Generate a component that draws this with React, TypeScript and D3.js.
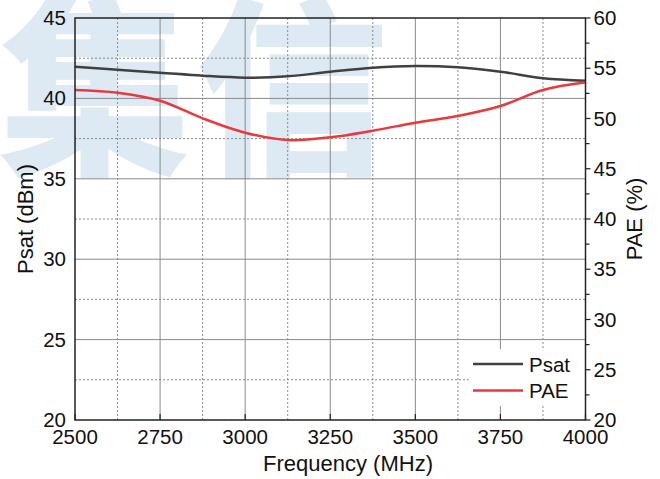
import * as d3 from "d3"

const FREQS = [2500, 2625, 2750, 2875, 3000, 3125, 3250, 3375, 3500, 3625, 3750, 3875, 4000]
const PSAT = [41.97, 41.78, 41.6, 41.41, 41.29, 41.37, 41.66, 41.91, 42.01, 41.93, 41.66, 41.25, 41.1]
const PAE = [52.84, 52.57, 51.77, 50.02, 48.59, 47.86, 48.13, 48.79, 49.58, 50.25, 51.24, 52.84, 53.6]

const X_TICKS = [2500, 2750, 3000, 3250, 3500, 3750, 4000]
const X_MINOR = [2625, 2875, 3125, 3375, 3625, 3875]
const PSAT_TICKS = [20, 25, 30, 35, 40, 45]
const PSAT_MINOR = [22.5, 27.5, 32.5, 37.5, 42.5]
const PAE_TICKS = [20, 25, 30, 35, 40, 45, 50, 55, 60]
const PAE_MINOR = [22.5, 27.5, 32.5, 37.5, 42.5, 47.5, 52.5, 57.5]

const WIDTH = 660
const HEIGHT = 479
const M = { left: 75, right: 74.5, top: 18, bottom: 59 }
const FONT = "'Liberation Sans', Arial, sans-serif"
const GRID = "#8a8a8a"
const PSAT_COLOR = "#404040"
const PAE_COLOR = "#e83a3c"

export default function App() {
  const x = d3.scaleLinear().domain([2500, 4000]).range([M.left, WIDTH - M.right])
  const yL = d3.scaleLinear().domain([20, 45]).range([HEIGHT - M.bottom, M.top])
  const yR = d3.scaleLinear().domain([20, 60]).range([HEIGHT - M.bottom, M.top])
  const x0 = M.left
  const x1 = WIDTH - M.right
  const y0 = HEIGHT - M.bottom
  const y1 = M.top

  const psatLine = d3
    .line<number>()
    .x((_, i) => x(FREQS[i]))
    .y((d) => yL(d))
    .curve(d3.curveCatmullRom.alpha(0.5))
  const paeLine = d3
    .line<number>()
    .x((_, i) => x(FREQS[i]))
    .y((d) => yR(d))
    .curve(d3.curveCatmullRom.alpha(0.5))

  return (
    <svg
      width={WIDTH}
      height={HEIGHT}
      style={{ position: "absolute", left: 0, top: 0, background: "#fff" }}
      fontFamily={FONT}
    >
      {/* watermark */}
      <g fill="#dde9f3" fontFamily="'Noto Sans CJK SC'" fontWeight={900} fontSize={192} textAnchor="middle">
        <text x={95} y={160}>集</text>
        <text x={292} y={160}>信</text>
      </g>

      {/* grid */}
      <g>
        {X_MINOR.map((v) => (
          <line key={"xm" + v} x1={x(v)} x2={x(v)} y1={y0} y2={y1} stroke={GRID} strokeWidth={1} strokeDasharray="2,2" />
        ))}
        {PSAT_MINOR.map((v) => (
          <line key={"ym" + v} x1={x0} x2={x1} y1={yL(v)} y2={yL(v)} stroke={GRID} strokeWidth={1} strokeDasharray="2,2" />
        ))}
        {X_TICKS.slice(1, -1).map((v) => (
          <line key={"xg" + v} x1={x(v)} x2={x(v)} y1={y0} y2={y1} stroke={GRID} strokeWidth={1} />
        ))}
        {PSAT_TICKS.slice(1, -1).map((v) => (
          <line key={"yg" + v} x1={x0} x2={x1} y1={yL(v)} y2={yL(v)} stroke={GRID} strokeWidth={1} />
        ))}
      </g>

      {/* legend box */}
      <rect x={470} y={349} width={x1 - 470} height={57} fill="#fff" />

      {/* series */}
      <path d={psatLine(PSAT) ?? ""} fill="none" stroke={PSAT_COLOR} strokeWidth={2.5} />
      <path d={paeLine(PAE) ?? ""} fill="none" stroke={PAE_COLOR} strokeWidth={2.5} />

      {/* frame */}
      <rect x={x0} y={y1} width={x1 - x0} height={y0 - y1} fill="none" stroke="#222" strokeWidth={1.5} />

      {/* bottom axis */}
      <g fontSize={20.5} textAnchor="middle" fill="#111">
        {X_TICKS.map((v) => (
          <g key={"xt" + v}>
            <line x1={x(v)} x2={x(v)} y1={y0} y2={y0 - 6} stroke="#222" strokeWidth={1.2} />
            <text x={x(v)} y={444}>{v}</text>
          </g>
        ))}
      </g>

      {/* left axis */}
      <g fontSize={20.5} textAnchor="end" fill="#111">
        {PSAT_TICKS.map((v) => (
          <text key={"yl" + v} x={x0 - 9} y={yL(v) + 7}>{v}</text>
        ))}
      </g>

      {/* right axis */}
      <g fontSize={20.5} textAnchor="start" fill="#111">
        {PAE_TICKS.map((v) => (
          <g key={"yr" + v}>
            <line x1={x1} x2={x1 + 5} y1={yR(v)} y2={yR(v)} stroke="#222" strokeWidth={1.2} />
            <text x={x1 + 8} y={yR(v) + 7}>{v}</text>
          </g>
        ))}
        {PAE_MINOR.map((v) => (
          <line key={"yrm" + v} x1={x1} x2={x1 + 4} y1={yR(v)} y2={yR(v)} stroke="#222" strokeWidth={1.2} />
        ))}
      </g>

      {/* axis titles */}
      <text x={348} y={471} fontSize={22} textAnchor="middle" fill="#111">
        Frequency (MHz)
      </text>
      <text
        transform={`translate(33, ${(y0 + y1) / 2}) rotate(-90)`}
        fontSize={22}
        textAnchor="middle"
        fill="#111"
      >
        Psat (dBm)
      </text>
      <text
        transform={`translate(642, ${(y0 + y1) / 2}) rotate(-90)`}
        fontSize={22}
        textAnchor="middle"
        fill="#111"
      >
        PAE (%)
      </text>

      {/* legend */}
      <g fontSize={20.5} fill="#111">
        <line x1={473} x2={523} y1={364} y2={364} stroke={PSAT_COLOR} strokeWidth={2.5} />
        <text x={529} y={372}>Psat</text>
        <line x1={473} x2={523} y1={390.5} y2={390.5} stroke={PAE_COLOR} strokeWidth={2.5} />
        <text x={529} y={398}>PAE</text>
      </g>
    </svg>
  )
}
